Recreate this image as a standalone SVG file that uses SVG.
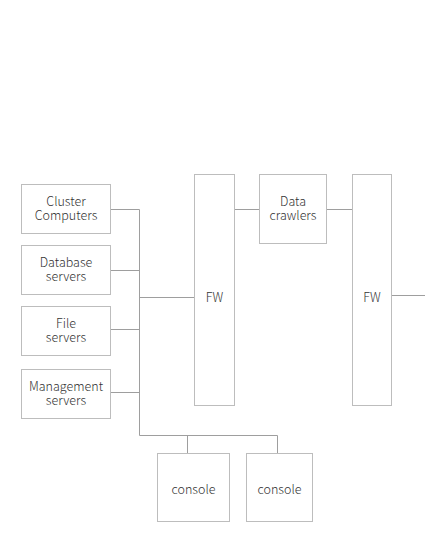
<svg xmlns="http://www.w3.org/2000/svg" width="425" height="550" viewBox="0 0 425 550">
<style>
rect{fill:#fff;stroke:#bdbdbd;stroke-width:1}
text{font-family:"Noto Sans CJK JP","Noto Sans",sans-serif;font-size:12.5px;font-weight:300;fill:#333;text-anchor:middle}
.c{fill:none;stroke:#9e9e9e;stroke-width:1}
</style>
<rect x="0" y="0" width="425" height="550" style="stroke:none"/>
<g id="connectors">
<path class="c" d="M110.5 209.5H139.5M110.5 270.5H139.5M110.5 329.5H139.5M110.5 392.5H139.5M139.5 209.5V435.5M139.5 297.5H194.5M139.5 435.5H277.5M187.5 435.5V453.5M277.5 435.5V453.5M234.5 209.5H259.5M326.5 209.5H352.5M391.5 295.5H425"/>
</g>
<g id="cluster"><rect x="21.5" y="184.5" width="89" height="49"/><text x="66" y="206">Cluster<tspan x="66" dy="13.5">Computers</tspan></text></g>
<g id="database"><rect x="21.5" y="245.5" width="89" height="49"/><text x="66" y="267">Database<tspan x="66" dy="13.5">servers</tspan></text></g>
<g id="file"><rect x="21.5" y="306.5" width="89" height="49"/><text x="66" y="328">File<tspan x="66" dy="13.5">servers</tspan></text></g>
<g id="management"><rect x="21.5" y="369.5" width="89" height="49"/><text x="66" y="391">Management<tspan x="66" dy="13.5">servers</tspan></text></g>
<g id="fw1"><rect x="194.5" y="174.5" width="40" height="231"/><text x="214.5" y="301.5">FW</text></g>
<g id="crawlers"><rect x="259.5" y="174.5" width="67" height="69"/><text x="293" y="206">Data<tspan x="293" dy="13.5">crawlers</tspan></text></g>
<g id="fw2"><rect x="352.5" y="174.5" width="39" height="231"/><text x="372" y="301.5">FW</text></g>
<g id="console1"><rect x="157.5" y="453.5" width="72" height="68"/><text x="193.5" y="493.5">console</text></g>
<g id="console2"><rect x="246.5" y="453.5" width="66" height="68"/><text x="279.5" y="493.5">console</text></g>
</svg>
